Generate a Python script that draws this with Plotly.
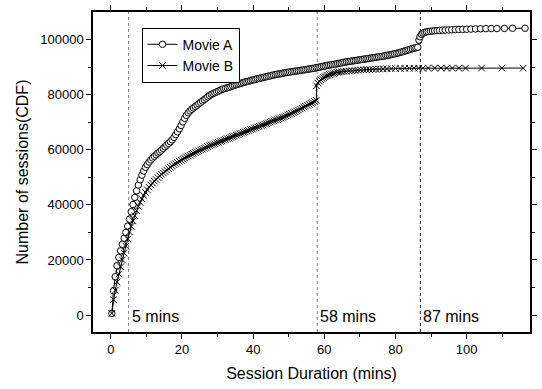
import plotly.graph_objects as go

# Movie A: cumulative number of sessions vs. session duration (mins)
movie_a_x = [
    0.3, 0.75, 1.25, 1.75, 2.25, 2.75, 3.25, 3.75, 4.25, 4.75, 5.25, 5.75, 6.25, 6.75, 7.25, 7.75,
    8.25, 8.75, 9.25, 9.75, 10.25, 10.75, 11.25, 11.75, 12.25, 12.75, 13.25, 13.75, 14.25, 14.75,
    15.25, 15.75, 16.25, 16.75, 17.25, 17.75, 18.25, 18.75, 19.25, 19.75, 20.25, 20.75, 21.25, 21.75,
    22.25, 22.75, 23.25, 23.75, 24.25, 24.75, 25.25, 25.75, 26.25, 26.75, 27.25, 27.75, 28.25, 28.75,
    29.25, 29.75, 30.25, 30.75, 31.25, 31.75, 32.25, 32.75, 33.25, 33.75, 34.25, 34.75, 35.25, 35.75,
    36.25, 36.75, 37.25, 37.75, 38.25, 38.75, 39.25, 39.75, 40.25, 40.75, 41.25, 41.75, 42.25, 42.75,
    43.25, 43.75, 44.25, 44.75, 45.25, 45.75, 46.25, 46.75, 47.25, 47.75, 48.25, 48.75, 49.25, 49.75,
    50.25, 50.75, 51.25, 51.75, 52.25, 52.75, 53.25, 53.75, 54.25, 54.75, 55.25, 55.75, 56.25, 56.75,
    57.25, 57.75, 58.25, 58.75, 59.25, 59.75, 60.25, 60.75, 61.25, 61.75, 62.25, 62.75, 63.25, 63.75,
    64.25, 64.75, 65.25, 65.75, 66.25, 66.75, 67.25, 67.75, 68.25, 68.75, 69.25, 69.75, 70.25, 70.75,
    71.25, 71.75, 72.25, 72.75, 73.25, 73.75, 74.25, 74.75, 75.25, 75.75, 76.25, 76.75, 77.25, 77.75,
    78.25, 78.75, 79.25, 79.75, 80.25, 80.75, 81.25, 81.75, 82.25, 82.75, 83.25, 83.75, 84.25, 84.75,
    85.25, 85.75, 86.25,
    86.6, 86.9, 87.3, 87.7, 88.2, 88.7, 89.2, 89.8, 90.4, 91.0, 91.7, 92.4, 93.2, 94.0, 94.9, 95.8,
    96.8, 97.8, 98.9, 100.0, 101.2, 102.5, 103.9, 105.4, 106.9, 108.5, 110.6, 112.9, 116.4,
]
movie_a_y = [
    600, 8800, 13900, 17900, 20900, 23300, 25700, 27900, 30000, 32300, 34800, 37500, 40100, 42700, 45100, 47200,
    49100, 50800, 52300, 53600, 54600, 55500, 56300, 57000, 57600, 58200, 58800, 59300, 59900, 60500,
    61100, 61700, 62300, 62900, 63600, 64500, 65500, 66500, 67600, 68800, 70100, 71400, 72500, 73400,
    74100, 74700, 75200, 75700, 76200, 76700, 77200, 77700, 78200, 78700, 79200, 79700, 80100, 80400,
    80700, 81000, 81300, 81600, 81900, 82100, 82300, 82500, 82700, 82900, 83200, 83400, 83600, 83800,
    84000, 84200, 84400, 84600, 84700, 84900, 85100, 85300, 85400, 85600, 85800, 85900, 86100, 86200,
    86400, 86500, 86700, 86800, 87000, 87100, 87300, 87400, 87500, 87600, 87700, 87900, 88000, 88100,
    88200, 88300, 88400, 88500, 88600, 88700, 88800, 88900, 89000, 89100, 89200, 89300, 89400, 89500,
    89600, 89800, 89900, 90000, 90200, 90300, 90400, 90600, 90700, 90800, 90900, 91000, 91100, 91300,
    91400, 91500, 91700, 91800, 91900, 92000, 92100, 92200, 92300, 92400, 92500, 92600, 92700, 92800,
    92900, 93000, 93100, 93200, 93300, 93400, 93500, 93600, 93700, 93800, 93900, 94000, 94200, 94300,
    94400, 94500, 94700, 94800, 95000, 95100, 95300, 95500, 95700, 95900, 96100, 96300, 96500, 96700,
    96900, 97000, 97200,
    99800, 101000, 101900, 102300, 102600, 102800, 102900, 103000, 103100, 103200, 103250, 103300, 103400, 103450, 103500, 103550,
    103600, 103650, 103700, 103750, 103800, 103850, 103900, 103950, 104000, 104000, 104050, 104100, 104100,
]

# Movie B: cumulative number of sessions vs. session duration (mins)
movie_b_x = [
    0.3, 0.75, 1.25, 1.75, 2.25, 2.75, 3.25, 3.75, 4.25, 4.75, 5.25, 5.75, 6.25, 6.75, 7.25, 7.75,
    8.25, 8.75, 9.25, 9.75, 10.25, 10.75, 11.25, 11.75, 12.25, 12.75, 13.25, 13.75, 14.25, 14.75,
    15.25, 15.75, 16.25, 16.75, 17.25, 17.75, 18.25, 18.75, 19.25, 19.75, 20.25, 20.75, 21.25, 21.75,
    22.25, 22.75, 23.25, 23.75, 24.25, 24.75, 25.25, 25.75, 26.25, 26.75, 27.25, 27.75, 28.25, 28.75,
    29.25, 29.75, 30.25, 30.75, 31.25, 31.75, 32.25, 32.75, 33.25, 33.75, 34.25, 34.75, 35.25, 35.75,
    36.25, 36.75, 37.25, 37.75, 38.25, 38.75, 39.25, 39.75, 40.25, 40.75, 41.25, 41.75, 42.25, 42.75,
    43.25, 43.75, 44.25, 44.75, 45.25, 45.75, 46.25, 46.75, 47.25, 47.75, 48.25, 48.75, 49.25, 49.75,
    50.25, 50.75, 51.25, 51.75, 52.25, 52.75, 53.25, 53.75, 54.25, 54.75, 55.25, 55.75, 56.25, 56.75,
    57.25, 57.75,
    57.8, 58.2, 58.6, 59.0, 59.4, 59.8, 60.2, 60.6, 61.0, 61.5, 62.0, 62.5, 63.0, 63.6, 64.2, 64.8,
    65.5, 66.2, 67.0, 67.8, 68.6, 69.4, 70.2, 71.0, 71.8, 72.7, 73.6, 74.5, 75.5, 76.5, 77.6, 78.8,
    80.0, 81.3, 82.6, 83.9, 85.2, 86.5, 87.7, 89.2, 91.0, 92.8, 94.4, 96.0, 97.8, 99.7, 104.2, 109.9,
    115.9,
]
movie_b_y = [
    600, 5600, 9000, 12000, 14900, 17500, 20000, 22500, 25000, 27600, 30200, 32200, 34200, 36100, 37900, 39500,
    40900, 42200, 43400, 44500, 45500, 46400, 47200, 47900, 48600, 49200, 49900, 50500, 51100, 51600,
    52100, 52600, 53100, 53600, 54100, 54600, 55000, 55400, 55800, 56200, 56600, 57000, 57400, 57700,
    58000, 58400, 58700, 59000, 59300, 59600, 59900, 60200, 60500, 60800, 61100, 61400, 61700, 61900,
    62200, 62500, 62700, 63000, 63200, 63500, 63700, 64000, 64200, 64500, 64800, 65000, 65300, 65500,
    65800, 66000, 66300, 66500, 66800, 67000, 67300, 67500, 67800, 68000, 68300, 68500, 68800, 69000,
    69300, 69500, 69800, 70000, 70300, 70500, 70800, 71000, 71300, 71500, 71800, 72000, 72300, 72600,
    72900, 73200, 73500, 73800, 74100, 74400, 74800, 75100, 75500, 75800, 76200, 76500, 76900, 77200,
    77500, 77900,
    83200, 84200, 84900, 85400, 85800, 86200, 86500, 86800, 87000, 87300, 87500, 87700, 87900, 88100, 88200, 88300,
    88400, 88500, 88600, 88700, 88800, 88900, 89000, 89050, 89100, 89150, 89200, 89250, 89300, 89350, 89400, 89450,
    89500, 89500, 89550, 89550, 89600, 89600, 89600, 89650, 89650, 89650, 89650, 89650, 89650, 89650, 89650, 89650,
    89650,
]

# Reference durations marked with dotted lines
marker_minutes = [5, 58, 87]
marker_labels = ["5 mins", "58 mins", "87 mins"]
marker_colors = ["#808080", "#808080", "#202020"]

# Axis ticks
x_ticks = [0, 20, 40, 60, 80, 100]
x_minor_ticks = [10, 30, 50, 70, 90, 110]
y_ticks = [0, 20000, 40000, 60000, 80000, 100000]
y_minor_ticks = [10000, 30000, 50000, 70000, 90000]

FONT = "Liberation Sans, Arial, sans-serif"

fig = go.Figure()
fig.add_trace(go.Scatter(
    x=movie_a_x, y=movie_a_y, name="Movie A", mode="lines+markers",
    line=dict(color="black", width=1),
    marker=dict(symbol="circle", size=6.5, color="white", line=dict(color="black", width=1)),
))
fig.add_trace(go.Scatter(
    x=movie_b_x, y=movie_b_y, name="Movie B", mode="lines+markers",
    line=dict(color="black", width=1),
    marker=dict(symbol="x-thin", size=6.5, color="black", line=dict(color="black", width=1)),
))

for m, lab, col in zip(marker_minutes, marker_labels, marker_colors):
    fig.add_shape(type="line", x0=m, x1=m, xref="x", y0=0, y1=1, yref="paper",
                  line=dict(color=col, width=1, dash="dot"), layer="below")
    fig.add_annotation(x=m, y=0, xref="x", yref="y", text=lab, showarrow=False,
                       xanchor="left", yanchor="middle", xshift=1, yshift=-1,
                       font=dict(family=FONT, size=16, color="black"))

axis_common = dict(
    showline=True, linecolor="black", linewidth=1.5, mirror="ticks",
    ticks="outside", ticklen=5, tickwidth=1, tickcolor="black",
    showgrid=False, zeroline=False,
    tickfont=dict(family=FONT, size=13, color="black"),
    title_font=dict(family=FONT, size=16, color="black"),
)

fig.update_xaxes(
    range=[-5, 117.8], tickvals=x_ticks,
    minor=dict(tickvals=x_minor_ticks, ticklen=3, tickcolor="black", tickwidth=1, ticks="outside"),
    title_text="Session Duration (mins)", title_standoff=11,
    **axis_common,
)
fig.update_yaxes(
    range=[-6150, 110000], tickvals=y_ticks, tickformat="d",
    minor=dict(tickvals=y_minor_ticks, ticklen=3, tickcolor="black", tickwidth=1, ticks="outside"),
    title_text="Number of sessions(CDF)", title_standoff=8,
    **axis_common,
)

fig.update_layout(
    width=542, height=389,
    margin=dict(l=93, r=7, t=5, b=57),
    paper_bgcolor="white", plot_bgcolor="white",
    font=dict(family=FONT, color="black"),
    legend=dict(
        x=0.111, y=0.951, xanchor="left", yanchor="top",
        bgcolor="white", bordercolor="black", borderwidth=1,
        font=dict(family=FONT, size=14, color="black"),
        tracegroupgap=0, itemwidth=30,
    ),
)

fig.write_html("out.html")
